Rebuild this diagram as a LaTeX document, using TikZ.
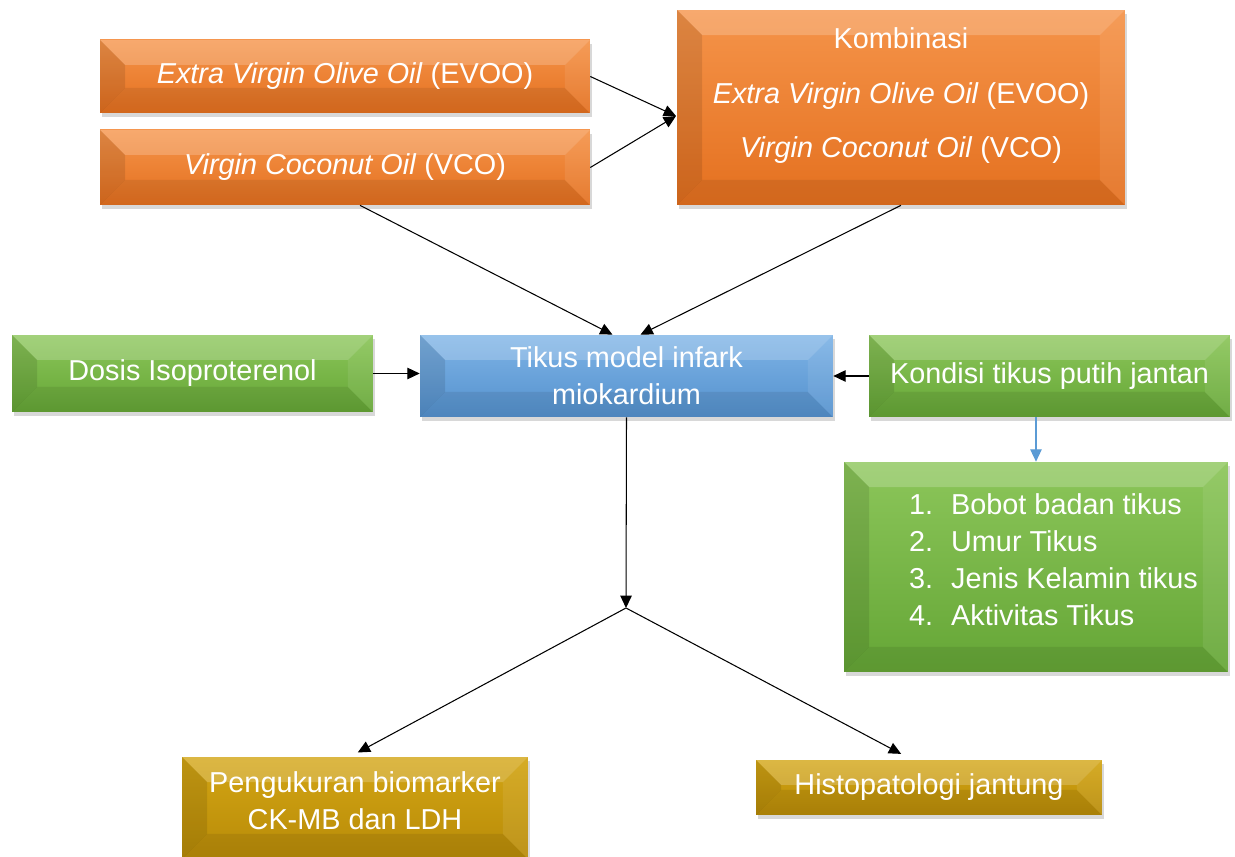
\documentclass[tikz,border=0pt]{standalone}
\usepackage{fontspec}
\setmainfont{Liberation Sans}
\usepackage{tikz}
\usetikzlibrary{arrows.meta, positioning, calc, shadows}
\usepackage{xcolor}
\definecolor{orangeT}{HTML}{F5944A}
\definecolor{orangeB}{HTML}{E4701F}
\definecolor{blueT}{HTML}{7FB4E6}
\definecolor{blueB}{HTML}{5491CE}
\definecolor{greenT}{HTML}{8CC65A}
\definecolor{greenB}{HTML}{65A636}
\definecolor{goldT}{HTML}{D3A514}
\definecolor{goldB}{HTML}{B88B08}
\definecolor{lineblue}{HTML}{5B9BD5}
\tikzstyle{block} = [rectangle, draw=none, text=white, align=center, font=\fontsize{16.4}{21}\selectfont,
  drop shadow={shadow xshift=1pt, shadow yshift=-2.5pt, opacity=.3},
  path picture={
    \coordinate (pNW) at (path picture bounding box.north west);
    \coordinate (pNE) at (path picture bounding box.north east);
    \coordinate (pSW) at (path picture bounding box.south west);
    \coordinate (pSE) at (path picture bounding box.south east);
    \fill[white, opacity=.2] (pNW) -- (pNE) -- ([shift={(-5mm,-5mm)}]pNE) -- ([shift={(5mm,-5mm)}]pNW) -- cycle;
    \fill[black, opacity=.08] (pSW) -- (pSE) -- ([shift={(-5mm,5mm)}]pSE) -- ([shift={(5mm,5mm)}]pSW) -- cycle;
    \fill[black, opacity=.1] (pNW) -- ([shift={(5mm,-5mm)}]pNW) -- ([shift={(5mm,5mm)}]pSW) -- (pSW) -- cycle;
    \fill[white, opacity=.08] (pNE) -- ([shift={(-5mm,-5mm)}]pNE) -- ([shift={(-5mm,5mm)}]pSE) -- (pSE) -- cycle;
  }]
\tikzstyle{orangebox} = [block, top color=orangeT, bottom color=orangeB]
\tikzstyle{bluebox} = [block, top color=blueT, bottom color=blueB]
\tikzstyle{greenbox} = [block, top color=greenT, bottom color=greenB]
\tikzstyle{goldbox} = [block, top color=goldT, bottom color=goldB]
\tikzstyle{arrow} = [line width=0.6pt, -{Triangle[length=7pt, width=6.5pt]}]
\tikzstyle{bluearrow} = [line width=0.6pt, lineblue, -{Triangle[length=7pt, width=6.5pt]}]

\begin{document}
\begin{tikzpicture}[x=0.02cm, y=-0.02cm]
  \useasboundingbox[fill=white] (0,0) rectangle (1235,857);

  % oils
  \node[orangebox, minimum width=9.8cm, minimum height=1.46cm] (evoo) at (345,76.5) {\textit{Extra Virgin Olive Oil} (EVOO)};
  \node[orangebox, minimum width=9.8cm, minimum height=1.5cm] (vco) at (345,167.5) {\textit{Virgin Coconut Oil} (VCO)};
  \node[orangebox, minimum width=8.96cm, minimum height=3.9cm, font=\fontsize{16.4}{31}\selectfont] (komb) at (901,107.5)
    {Kombinasi\\\textit{Extra Virgin Olive Oil} (EVOO)\\\textit{Virgin Coconut Oil} (VCO)\rule[-0.58cm]{0pt}{0pt}};

  % middle row
  \node[greenbox, minimum width=7.22cm, minimum height=1.54cm] (dosis) at (192.5,373.5) {Dosis Isoproterenol\rule[-0.15cm]{0pt}{0pt}};
  \node[bluebox, minimum width=8.26cm, minimum height=1.64cm] (tikus) at (626.5,376) {Tikus model infark\\miokardium};
  \node[greenbox, minimum width=7.22cm, minimum height=1.64cm] (kondisi) at (1049.5,376) {Kondisi tikus putih jantan\rule[-0.1cm]{0pt}{0pt}};
  \node[greenbox, minimum width=7.68cm, minimum height=4.2cm] (faktor) at (1036,567)
    {\hspace*{0.7cm}\begin{tabular}{@{}l@{\hspace{0.36cm}}l@{}}1. & Bobot badan tikus\\2. & Umur Tikus\\3. & Jenis Kelamin tikus\\4. & Aktivitas Tikus\rule[-0.4cm]{0pt}{0pt}\end{tabular}};

  % outcomes
  \node[goldbox, minimum width=6.92cm, minimum height=2.04cm] (ukur) at (355,808) {Pengukuran biomarker\\CK-MB dan LDH\rule[-0.3cm]{0pt}{0pt}};
  \node[goldbox, minimum width=6.92cm, minimum height=1.1cm] (histo) at (929,787.5) {Histopatologi jantung};

  \coordinate (kin) at (676,116);
  \coordinate (split) at (626,608);

  \draw[arrow] (evoo.east) -- (kin);
  \draw[arrow] (vco.east) -- (kin);
  \draw[arrow] ([xshift=0.3cm]vco.south) -- ([xshift=-0.28cm]tikus.north);
  \draw[arrow] (komb.south) -- ([xshift=0.28cm]tikus.north);
  \draw[arrow] (dosis.east) -- (dosis.east -| tikus.west);
  \draw[arrow] (kondisi.west) -- (kondisi.west -| tikus.east);
  \draw[bluearrow] (faktor.north |- kondisi.south) -- (faktor.north);
  \draw[arrow] (tikus.south) -- (split);
  \draw[arrow, shorten >=5pt] (split) -- ([xshift=-0.1cm]ukur.north);
  \draw[arrow, shorten >=7pt] (split) -- ([xshift=-0.34cm]histo.north);
\end{tikzpicture}
\end{document}
